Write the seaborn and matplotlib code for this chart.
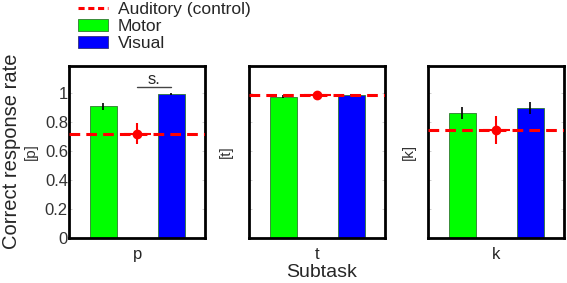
import numpy as np
import pandas as pd
import matplotlib
matplotlib.use("Agg")
import matplotlib.pyplot as plt
import seaborn as sns
from matplotlib.lines import Line2D
from matplotlib.patches import Patch

# values
subtasks = ["p", "t", "k"]
conditions = ["Motor", "Auditory", "Visual"]
motor = [0.91, 0.975, 0.865]
motor_err = [0.025, 0.01, 0.042]
visual = [0.995, 0.99, 0.90]
visual_err = [0.006, 0.004, 0.042]
auditory = [0.72, 0.99, 0.745]
auditory_err = [0.075, 0.012, 0.10]

sns.set_style("white")
plt.rcParams['font.family'] = ['Liberation Sans', 'DejaVu Sans']

fig = plt.figure(figsize=(5.67, 2.83), dpi=100)
lefts = [0.1222, 0.4397, 0.7554]
label_x = [-0.233, -0.123, -0.088]
axes = [fig.add_axes([l, 0.160, 0.240, 0.608]) for l in lefts]

for i, ax in enumerate(axes):
    df = pd.DataFrame({
        "cond": ["Motor", "Visual"],
        "rate": [motor[i], visual[i]],
    })
    sns.barplot(data=df, x="cond", y="rate", hue="cond", order=conditions,
                palette={"Motor": "#00ff00", "Visual": "#0000ff"},
                saturation=1, width=0.8, errorbar=None, legend=False, ax=ax,
                edgecolor="#2f7a2f", linewidth=0.6)
    ax.errorbar([0, 2], [motor[i], visual[i]], yerr=[motor_err[i], visual_err[i]],
                fmt="none", ecolor="black", elinewidth=1.2, capsize=0)
    ax.axhline(auditory[i], color="red", ls=(0, (3.5, 2)), lw=2.2, zorder=4)
    ax.errorbar([1], [auditory[i]], yerr=[auditory_err[i]], xerr=[0.4],
                fmt="o", color="red", ms=6, elinewidth=1.5, capsize=0, zorder=5)
    ax.set_xlim(-1, 3)
    ax.set_ylim(0, 1.19)
    ax.set_xticks([1])
    ax.set_xticklabels([subtasks[i]], fontsize=12)
    ax.set_xlabel("")
    ax.set_ylabel("[" + subtasks[i] + "]", fontsize=11, color="#333333")
    ax.yaxis.set_label_coords(label_x[i], 0.5)
    ax.set_yticks(np.arange(0, 1.01, 0.2))
    if i == 0:
        ax.set_yticklabels(["0", "0.2", "0.4", "0.6", "0.8", "1"], fontsize=12,
                           color="#333333")
    else:
        ax.set_yticklabels([])
    ax.tick_params(axis="y", direction="in", length=2, width=0.5, color="#bbbbbb",
                   left=True, right=True, pad=1)
    ax.tick_params(axis="x", bottom=False, pad=3)
    for s in ax.spines.values():
        s.set_visible(True)
        s.set_linewidth(2)
        s.set_color("black")

# significance marker in the first panel
axes[0].plot([1, 2], [1.04, 1.04], color="#444444", lw=1)
axes[0].text(1.5, 1.045, "s.", ha="center", va="bottom", fontsize=12)

fig.text(0.021, 0.466, "Correct response rate", rotation=90, ha="center",
         va="center", fontsize=14.5)
fig.text(0.568, 0.038, "Subtask", ha="center", va="center", fontsize=14)

handles = [Line2D([0], [0], color="red", ls=(0, (2, 1.2)), lw=2.2),
           Patch(facecolor="#00ff00", edgecolor="#2f7a2f", linewidth=0.6),
           Patch(facecolor="#0000ff", edgecolor="#2f2f7a", linewidth=0.6)]
fig.legend(handles, ["Auditory (control)", "Motor", "Visual"], loc="upper left",
           bbox_to_anchor=(0.1376, 0.995), frameon=False, fontsize=12.5,
           handlelength=1.7, handleheight=0.75, labelspacing=0.1,
           handletextpad=0.6, borderaxespad=0, borderpad=0)

fig.savefig("out.png", dpi=100)
